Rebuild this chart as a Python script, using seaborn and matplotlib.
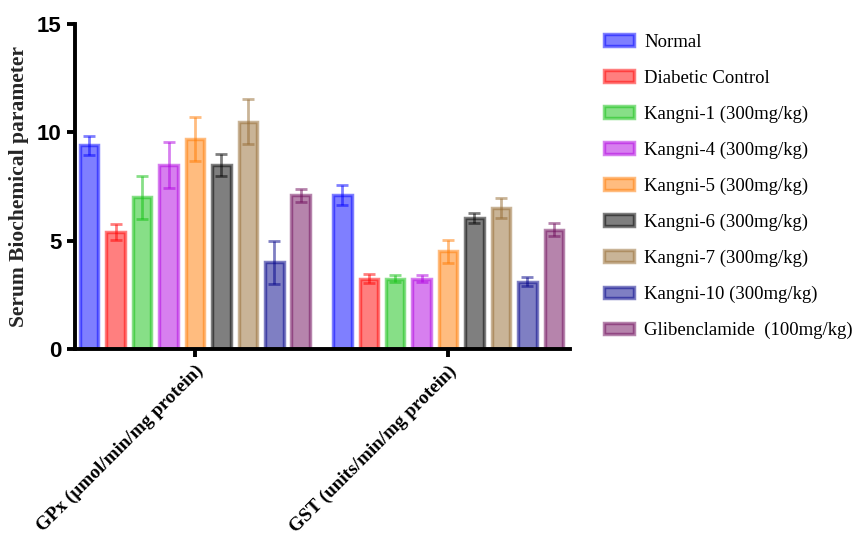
import seaborn as sns
import pandas as pd
import matplotlib.pyplot as plt

sns.set_style("ticks")

params = ["GPx (\u00b5mol/min/mg protein)", "GST (units/min/mg protein)"]
groups = ["Normal", "Diabetic Control", "Kangni-1 (300mg/kg)", "Kangni-4 (300mg/kg)",
          "Kangni-5 (300mg/kg)", "Kangni-6 (300mg/kg)", "Kangni-7 (300mg/kg)",
          "Kangni-10 (300mg/kg)", "Glibenclamide  (100mg/kg)"]
gpx_mean = [9.4, 5.4, 7.0, 8.5, 9.7, 8.5, 10.5, 4.0, 7.1]
gpx_err = [0.45, 0.35, 1.0, 1.05, 1.0, 0.5, 1.05, 1.0, 0.3]
gst_mean = [7.1, 3.25, 3.25, 3.25, 4.5, 6.05, 6.5, 3.1, 5.5]
gst_err = [0.45, 0.2, 0.15, 0.15, 0.55, 0.25, 0.45, 0.2, 0.3]
colors = ["#0000ff", "#ff0000", "#10c010", "#b000e0", "#ff7a00",
          "#000000", "#956a30", "#000088", "#6e0a5a"]

means = [gpx_mean, gst_mean]
errs = [gpx_err, gst_err]

rows = []
for i, p in enumerate(params):
    for j, g in enumerate(groups):
        rows.append({"param": p, "group": g, "value": means[i][j]})
df = pd.DataFrame(rows)

fig = plt.figure(figsize=(8.67, 5.36), dpi=100)
ax = fig.add_axes([0.0865, 0.349, 0.571, 0.606])

sns.barplot(data=df, x="param", y="value", hue="group", hue_order=groups,
            palette=colors, saturation=1, width=0.94, gap=0.3, errorbar=None,
            alpha=0.5, linewidth=2.5, ax=ax, legend=False)

bar_conts = list(ax.containers)
for k, cont in enumerate(bar_conts):
    for bar in cont.patches:
        bar.set_edgecolor(colors[k])
        xc = bar.get_x() + bar.get_width() / 2
        ci = int(round(xc))
        ax.errorbar(xc, means[ci][k], yerr=errs[ci][k], color=colors[k], alpha=0.5,
                    capsize=4, capthick=2, elinewidth=2, fmt="none")

ax.set_ylim(0, 15)
ax.set_yticks([0, 5, 10, 15])
ax.set_xlim(-0.474, 1.482)
sns.despine(ax=ax)
for s in ["left", "bottom"]:
    ax.spines[s].set_linewidth(2.8)
    ax.spines[s].set_color("black")
ax.tick_params(axis="both", width=2.8, length=6, color="black", labelcolor="black")

ax.set_xlabel("")
ax.set_ylabel("Serum Biochemical parameter", fontfamily="Liberation Serif",
              fontweight="bold", fontsize=15.5, labelpad=6)
for t in ax.get_yticklabels():
    t.set_fontfamily("Liberation Sans")
    t.set_fontweight("bold")
    t.set_fontsize(16)
ax.set_xticks([0, 1])
ax.set_xticklabels(params, rotation=45, ha="right", rotation_mode="anchor",
                   fontfamily="Liberation Serif", fontweight="bold", fontsize=13.8)

leg = ax.legend(bar_conts, groups, loc="upper left", bbox_to_anchor=(0.677, 0.968),
                bbox_transform=fig.transFigure, frameon=False,
                prop={"family": "Liberation Serif", "size": 13.5},
                labelspacing=1.0, handlelength=1.6, handleheight=0.6,
                handletextpad=0.55)
for t in leg.get_texts():
    t.set_color("black")

plt.savefig("out.png", dpi=100)
